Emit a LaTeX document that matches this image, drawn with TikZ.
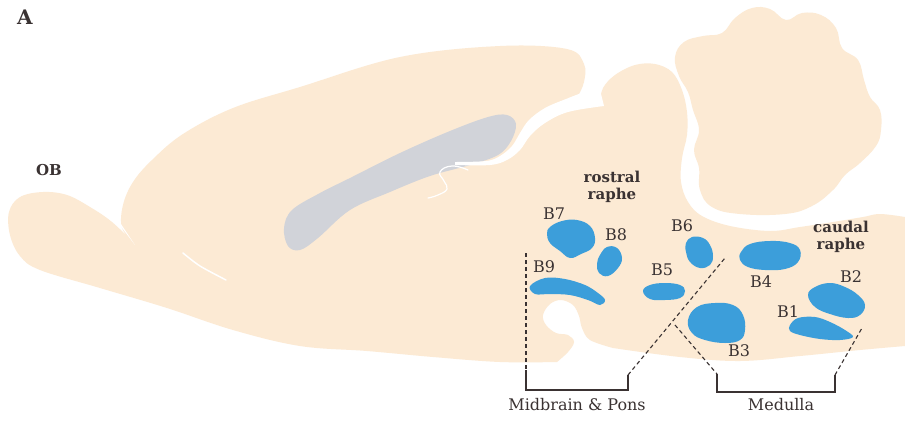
\documentclass[tikz,border=0pt]{standalone}
\usepackage{fontspec}
\setmainfont{DejaVu Serif}
\definecolor{tissuecol}{RGB}{252,234,212}
\definecolor{ventcol}{RGB}{209,211,217}
\definecolor{nuccol}{RGB}{60,158,218}
\definecolor{ink}{RGB}{58,50,50}
\begin{document}
\begin{tikzpicture}[x=1pt,y=-1pt,
  tissue/.style={fill=tissuecol},
  ventricle/.style={fill=ventcol},
  nucleus/.style={fill=nuccol},
  crack/.style={fill=white},
  lbl/.style={font=\fontsize{16}{18}\selectfont, text=ink, inner sep=0pt},
  grp/.style={font=\bfseries\fontsize{15}{16.5}\selectfont, text=ink, align=center, inner sep=0pt},
  brk/.style={draw=ink, line width=1.1pt},
  dsh/.style={brk, dash pattern=on 4pt off 3pt}]
\useasboundingbox (0,0) rectangle (905,421);
\fill[white] (0,0) rectangle (905,421);

% main body: olfactory bulb, cortex, midbrain, pons and medulla
\fill[tissue]
  plot[smooth, tension=0.6] coordinates {(135,244) (112,222) (90,207) (67,195) (43,192) (20,197) (9,212) (10,235) (20,256) (40,270) (100,288) (167,308) (233,330) (300,346) (367,351) (433,357) (500,362) (557,362)}
  -- plot[smooth, tension=0.6] coordinates {(557,362) (568,352) (574,342) (568,335) (556,333) (546,325) (543,315) (550,304) (561,300) (573,305) (579,316) (582,328) (590,340) (613,348)}
  -- plot[smooth, tension=0.6] coordinates {(613,348) (680,357) (740,361) (800,356) (860,350) (905,346)}
  -- (905,217)
  -- plot[smooth, tension=0.6] coordinates {(905,217) (880,214) (863,217) (833,222) (800,227) (770,231) (730,226) (702,216) (688,202) (681,182) (682,158) (687,135) (687,112) (682,90) (672,72) (655,64) (635,65) (615,75) (603,88) (600,102)}
  -- (578,96)
  -- plot[smooth, tension=0.6] coordinates {(578,96) (584,82) (584,64) (567,49) (500,46) (400,57) (300,87) (233,108) (183,134) (152,160) (133,182) (123,205) (122,228) (135,244)}
  -- cycle;

% cerebellum
\fill[tissue] plot[smooth cycle, tension=0.7] coordinates {
  (712,207) (700,190) (699,168) (694,150) (699,130) (693,110) (688,92) (679,76) (675,57) (684,42) (703,36) (722,33)
  (735,18) (752,8) (770,9) (786,20) (802,13) (821,15) (836,28) (842,48) (858,60) (864,80) (870,97) (880,110)
  (881,130) (876,146) (860,163) (845,175) (833,190) (812,206) (785,214) (740,214)};

% lateral ventricle
\fill[ventricle] plot[smooth cycle, tension=0.6] coordinates {
  (284,228) (292,210) (320,193) (350,178) (400,153) (450,131) (488,117) (507,115) (516,124) (511,141) (498,155)
  (470,165) (430,176) (390,192) (350,210) (318,238) (300,250) (288,246)};

% white clefts
\fill[crack] plot[smooth, tension=0.6] coordinates {(600,90) (585,92) (566,99) (545,108) (529,120) (520,133) (512,146) (500,156) (486,161) (455,162)}
  -- plot[smooth, tension=0.6] coordinates {(455,165) (490,165) (507,160) (520,150) (530,136) (545,123) (568,112) (604,106)} -- cycle;
\draw[white, line width=1.2pt, line cap=round] plot[smooth, tension=0.8] coordinates {(468,170) (452,166) (440,172) (444,181) (447,189) (438,195) (428,198)};
\fill[crack] (110,212) -- (135,245) -- (121,224) -- cycle;
\draw[white, line width=1.5pt, line cap=round] plot[smooth] coordinates {(183,253) (200,266) (226,280)};

% raphe nuclei
\fill[nucleus] plot[smooth cycle, tension=0.7] coordinates {(550,227) (562,221) (577,220) (590,226) (595,238) (592,248) (581,254) (570,258) (560,251) (550,243) (547,234)};
\fill[nucleus] plot[smooth cycle, tension=0.7] coordinates {(600,255) (607,247) (617,248) (622,258) (618,268) (608,276) (599,273) (597,264)};
\fill[nucleus] plot[smooth cycle, tension=0.6] coordinates {(530,286) (545,278) (565,279) (585,285) (598,293) (605,300) (600,305) (588,300) (570,295) (550,294) (535,294)};
\fill[nucleus] plot[smooth cycle, tension=0.7] coordinates {(643,291) (650,285) (665,283) (680,285) (685,291) (680,298) (665,300) (650,299)};
\fill[nucleus] plot[smooth cycle, tension=0.7] coordinates {(686,243) (692,237) (703,238) (710,245) (713,256) (710,265) (700,268) (690,262) (686,252)};
\fill[nucleus] plot[smooth cycle, tension=0.7] coordinates {(741,252) (750,244) (770,241) (790,243) (800,250) (798,262) (785,269) (765,270) (748,267) (740,260)};
\fill[nucleus] plot[smooth cycle, tension=0.7] coordinates {(688,320) (697,307) (715,303) (733,305) (743,315) (745,330) (740,340) (725,343) (705,340) (692,333)};
\fill[nucleus] plot[smooth cycle, tension=0.7] coordinates {(808,295) (815,287) (830,283) (845,287) (858,295) (865,305) (860,315) (848,318) (830,314) (815,307)};
\fill[nucleus] plot[smooth cycle, tension=0.6] coordinates {(790,325) (798,318) (815,317) (830,322) (845,330) (853,337) (840,340) (820,339) (800,335) (790,331)};

% labels
\node[font=\bfseries\fontsize{20}{22}\selectfont, text=ink, inner sep=0pt] (panel) at (25,17) {A};
\node[font=\bfseries\fontsize{15}{16}\selectfont, text=ink, inner sep=0pt] (ob) at (49,170) {OB};
\node[grp] (rostral) at (612,187) {rostral\\raphe};
\node[grp] (caudal) at (841,237) {caudal\\raphe};
\node[lbl] (b7) at (554,214) {B7};
\node[lbl] (b8) at (616,235) {B8};
\node[lbl] (b9) at (544,267) {B9};
\node[lbl] (b5) at (662,270) {B5};
\node[lbl] (b6) at (682,226) {B6};
\node[lbl] (b4) at (761,282) {B4};
\node[lbl] (b2) at (851,277) {B2};
\node[lbl] (b1) at (788,312) {B1};
\node[lbl] (b3) at (739,351) {B3};
\node[lbl] (mbp) at (577,405) {Midbrain \& Pons};
\node[lbl] (med) at (781,405) {Medulla};

% bracket corners
\coordinate (mbTop) at (526,253);
\coordinate (mbL) at (526,370);
\coordinate (mbBL) at (526,390);
\coordinate (mbBR) at (628,390);
\coordinate (mbR) at (628,375);
\coordinate (mbDiag) at (725,258);
\coordinate (mdDiagL) at (675,325);
\coordinate (mdL) at (717,374);
\coordinate (mdBL) at (717,392);
\coordinate (mdBR) at (835,392);
\coordinate (mdR) at (835,375);
\coordinate (mdDiagR) at (862,328);

\draw[dsh] (mbTop) -- (mbL);
\draw[brk] (mbL) -- (mbBL) -- (mbBR) -- (mbR);
\draw[dsh] (mbR) -- (mbDiag);
\draw[dsh] (mdDiagL) -- (mdL);
\draw[brk] (mdL) -- (mdBL) -- (mdBR) -- (mdR);
\draw[dsh] (mdR) -- (mdDiagR);
\end{tikzpicture}
\end{document}
